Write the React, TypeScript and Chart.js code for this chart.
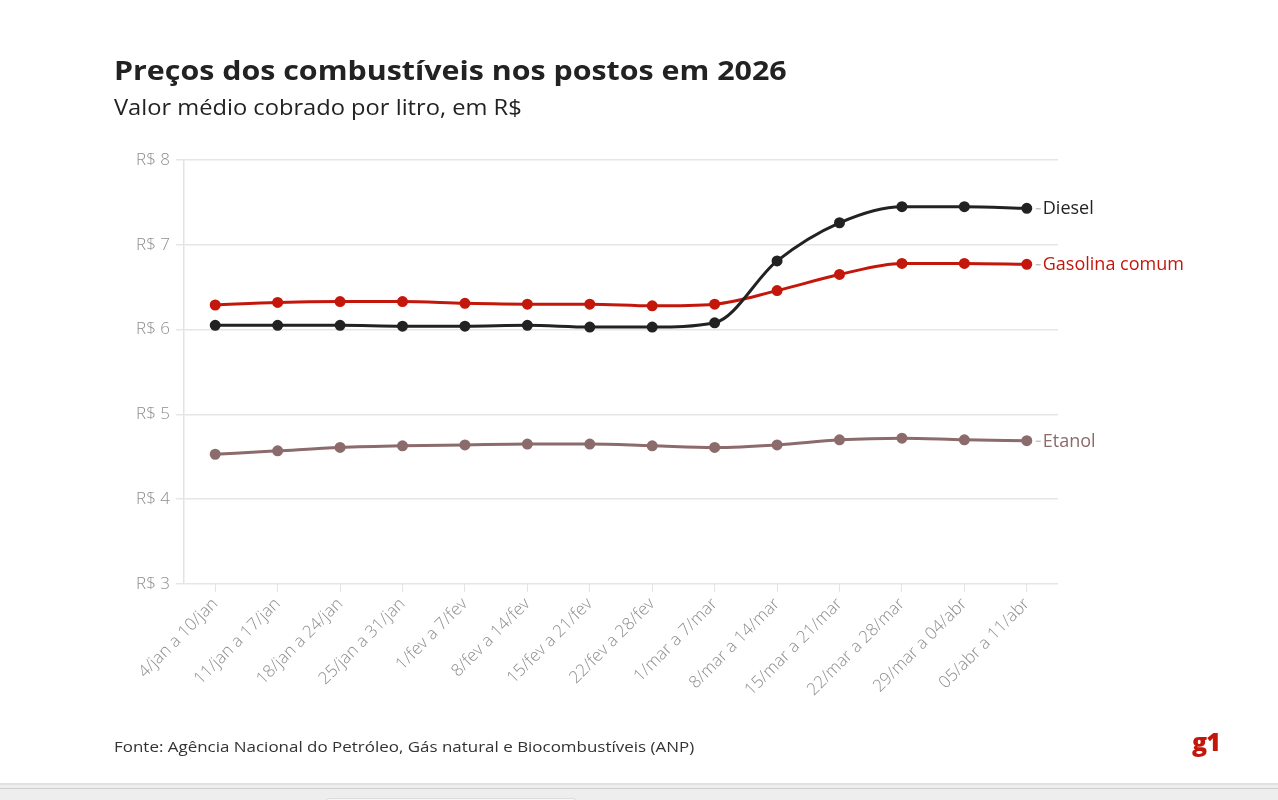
import React, { useEffect, useRef } from "react";
import { Chart, registerables } from "chart.js";

Chart.register(...registerables);

const categories = [
  "4/jan a 10/jan",
  "11/jan a 17/jan",
  "18/jan a 24/jan",
  "25/jan a 31/jan",
  "1/fev a 7/fev",
  "8/fev a 14/fev",
  "15/fev a 21/fev",
  "22/fev a 28/fev",
  "1/mar a 7/mar",
  "8/mar a 14/mar",
  "15/mar a 21/mar",
  "22/mar a 28/mar",
  "29/mar a 04/abr",
  "05/abr a 11/abr",
];

const diesel = [6.05, 6.05, 6.05, 6.04, 6.04, 6.05, 6.03, 6.03, 6.08, 6.81, 7.26, 7.45, 7.45, 7.43];
const gasolina = [6.29, 6.32, 6.33, 6.33, 6.31, 6.30, 6.30, 6.28, 6.30, 6.46, 6.65, 6.78, 6.78, 6.77];
const etanol = [4.53, 4.57, 4.61, 4.63, 4.64, 4.65, 4.65, 4.63, 4.61, 4.64, 4.70, 4.72, 4.70, 4.69];

const yTicks = [3, 4, 5, 6, 7, 8];

const seriesNames = ["Diesel", "Gasolina comum", "Etanol"];
const seriesColors = ["#222222", "#c4170c", "#8b6b6b"];
const labelColors = ["#222222", "#c4170c", "#8b6b6b"];

const endLabels = {
  id: "endLabels",
  afterDatasetsDraw(chart: any) {
    const ctx = chart.ctx;
    ctx.save();
    chart.data.datasets.forEach((ds: any, i: number) => {
      const meta = chart.getDatasetMeta(i);
      const pt = meta.data[meta.data.length - 1];
      if (!pt) return;
      const x = pt.x;
      const y = pt.y;
      ctx.strokeStyle = "#aaaaaa";
      ctx.lineWidth = 1;
      ctx.beginPath();
      ctx.moveTo(x + 9, y + 0.5);
      ctx.lineTo(x + 14, y + 0.5);
      ctx.stroke();
      ctx.fillStyle = labelColors[i];
      ctx.font = "18px 'Open Sans'";
      ctx.textBaseline = "middle";
      ctx.textAlign = "left";
      ctx.fillText(seriesNames[i], x + 16, y + 1);
    });
    ctx.restore();
  },
};

export default function App() {
  const canvasRef = useRef<HTMLCanvasElement | null>(null);

  useEffect(() => {
    const canvas = canvasRef.current;
    if (!canvas) return;
    const mk = (data: number[], i: number) => ({
      label: seriesNames[i],
      data,
      borderColor: seriesColors[i],
      backgroundColor: seriesColors[i],
      pointBackgroundColor: seriesColors[i],
      pointBorderColor: seriesColors[i],
      borderWidth: 3,
      pointRadius: 4,
      pointHoverRadius: 4,
      cubicInterpolationMode: "monotone" as const,
      fill: false,
    });
    const chart = new Chart(canvas, {
      type: "line",
      data: {
        labels: categories,
        datasets: [mk(diesel, 0), mk(gasolina, 1), mk(etanol, 2)],
      },
      options: {
        animation: false,
        responsive: false,
        maintainAspectRatio: false,
        devicePixelRatio: 1,
        layout: { padding: { left: 0, right: 220, top: 160, bottom: 0 } },
        plugins: {
          legend: { display: false },
          tooltip: { enabled: false },
          title: { display: false },
        },
        scales: {
          x: {
            type: "category",
            offset: true,
            afterFit: (scale: any) => {
              scale.height = 216;
            },
            grid: {
              drawOnChartArea: false,
              drawTicks: true,
              tickLength: 8,
              color: "#e3e3e3",
            },
            border: { display: false },
            ticks: {
              autoSkip: false,
              minRotation: 45,
              maxRotation: 45,
              color: "#8e8e8e",
              padding: 2,
              font: { family: "'Open Sans'", size: 17, weight: 300 },
            },
          },
          y: {
            min: 3,
            max: 8,
            afterFit: (scale: any) => {
              scale.width = 184;
            },
            afterBuildTicks: (scale: any) => {
              scale.ticks = yTicks.map((v) => ({ value: v }));
            },
            grid: {
              color: "#e6e6e6",
              lineWidth: 1.5,
              tickLength: 8,
              drawTicks: true,
            },
            border: { display: true, color: "#e3e3e3", width: 1.5 },
            ticks: {
              color: "#8e8e8e",
              padding: 6,
              font: { family: "'Open Sans'", size: 17, weight: 300 },
              callback: (v: any) => "R$ " + v,
            },
          },
        },
      },
      plugins: [endLabels],
    });
    return () => chart.destroy();
  }, []);

  const stretch = (s: number): React.CSSProperties => ({
    transform: `scaleX(${s})`,
    transformOrigin: "0 0",
  });

  return (
    <div
      style={{
        position: "fixed",
        left: 0,
        top: 0,
        width: 1278,
        height: 800,
        background: "#ffffff",
        fontFamily: "'Open Sans', sans-serif",
        overflow: "hidden",
      }}
    >
      <canvas
        ref={canvasRef}
        width={1278}
        height={800}
        style={{ position: "absolute", left: 0, top: 0, width: 1278, height: 800 }}
      />
      <div
        style={{
          position: "absolute",
          left: 114,
          top: 52,
          fontSize: 27,
          fontWeight: 700,
          color: "#222222",
          whiteSpace: "nowrap",
          lineHeight: "36px",
          ...stretch(1.125),
        }}
      >
        Preços dos combustíveis nos postos em 2026
      </div>
      <div
        style={{
          position: "absolute",
          left: 114,
          top: 91,
          fontSize: 22,
          color: "#222222",
          whiteSpace: "nowrap",
          lineHeight: "30px",
          ...stretch(1.076),
        }}
      >
        Valor médio cobrado por litro, em R$
      </div>
      <div
        style={{
          position: "absolute",
          left: 114,
          top: 735,
          fontSize: 15,
          color: "#333333",
          whiteSpace: "nowrap",
          lineHeight: "22px",
          ...stretch(1.13),
        }}
      >
        Fonte: Agência Nacional do Petróleo, Gás natural e Biocombustíveis (ANP)
      </div>
      <div
        style={{
          position: "absolute",
          left: 1192,
          top: 724,
          fontSize: 25,
          fontWeight: 800,
          color: "#c4170c",
          whiteSpace: "nowrap",
          lineHeight: "34px",
          letterSpacing: -1,
        }}
      >
        g1
      </div>
      <div
        style={{
          position: "absolute",
          left: 0,
          top: 783,
          width: 1278,
          height: 17,
          background: "#eeeeee",
          borderTop: "2px solid #e2e2e2",
          boxSizing: "border-box",
        }}
      >
        <div style={{ position: "absolute", left: 0, top: 3, width: 1278, height: 1, background: "#cfcfcf" }} />
        <div
          style={{
            position: "absolute",
            left: 325,
            top: 13,
            width: 250,
            height: 10,
            background: "#f7f7f7",
            border: "1px solid #dddddd",
            borderRadius: 4,
          }}
        />
      </div>
    </div>
  );
}
